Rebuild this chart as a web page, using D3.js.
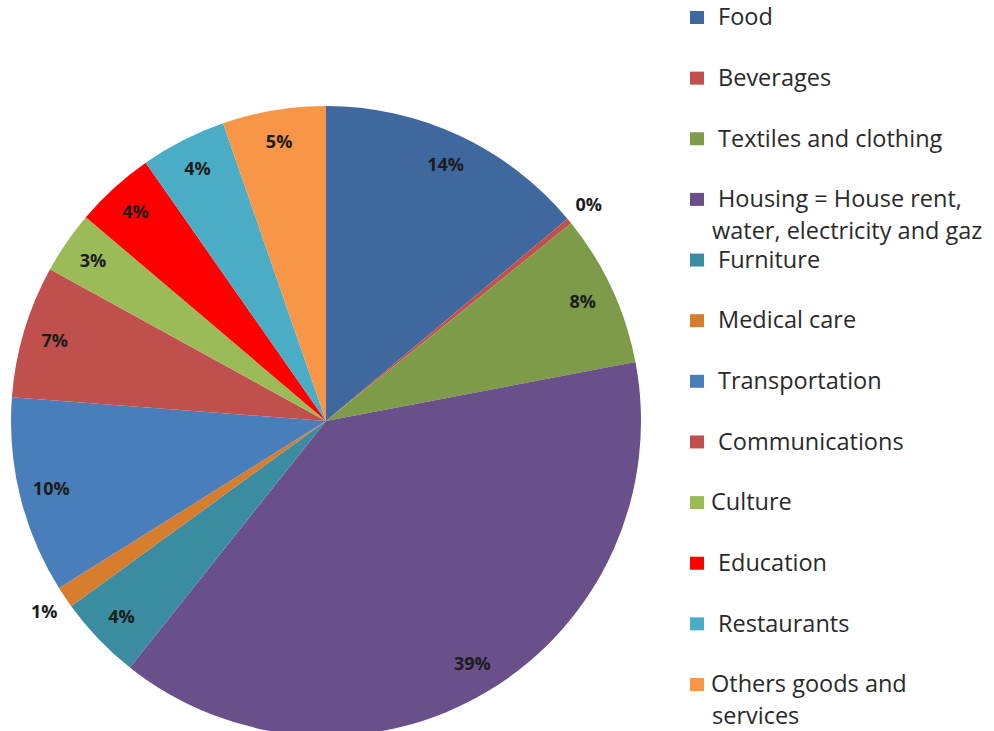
<!DOCTYPE html>
<html>
<head>
<meta charset="utf-8">
<script src="https://cdn.jsdelivr.net/npm/d3@7"></script>
<style>
  body { margin: 0; background: #fff; }
  text { font-family: "Open Sans", "Noto Sans", sans-serif; }
</style>
</head>
<body>
<div id="chart"></div>
<script>
// household spending shares (%)
const categories = ["Food", "Beverages", "Textiles and clothing",
  "Housing = House rent,|water, electricity and gaz", "Furniture", "Medical care",
  "Transportation", "Communications", "Culture", "Education", "Restaurants",
  "Others goods and|services"];
const values = [13.9, 0.3, 7.8, 38.7, 4.3, 1.1, 10.1, 6.8, 3.2, 4.1, 4.4, 5.3];
const colors = ["#3F689E", "#C0504D", "#7E9B4A", "#69508A", "#3B8CA1", "#D67D2E",
  "#4A7EBB", "#C0504D", "#9BBB59", "#FF0000", "#4BACC6", "#F79646"];

const W = 994, H = 731;
const cx = 326, cy = 421, R = 315;

const svg = d3.select("#chart").append("svg")
  .attr("width", W).attr("height", H);

const total = d3.sum(values);
const pct = d3.format(".0%");

const pie = d3.pie().sort(null).value(d => d)(values);
const arc = d3.arc().innerRadius(0).outerRadius(R);
const inLab = d3.arc().innerRadius(283).outerRadius(283);
const outLab = d3.arc().innerRadius(340).outerRadius(340);

const g = svg.append("g").attr("transform", "translate(" + cx + "," + cy + ")");

g.selectAll("path.slice").data(pie).enter().append("path")
  .attr("class", "slice")
  .attr("d", arc)
  .attr("fill", (d, i) => colors[i]);

g.selectAll("text.lab").data(pie).enter().append("text")
  .attr("class", "lab")
  .attr("transform", d => {
    let c = (d.value / total < 0.02 ? outLab : inLab).centroid(d);
    return "translate(" + c[0] + "," + c[1] + ")";
  })
  .attr("text-anchor", "middle")
  .attr("dy", "0.35em")
  .attr("font-size", 18)
  .attr("font-weight", "bold")
  .attr("fill", "#1c1c1c")
  .text(d => pct(d.value / total));

// legend
const tight = ["Culture", "Others goods and|services"];
const ly = d3.scaleLinear().domain([0, categories.length - 1]).range([17, 684]);

const leg = svg.append("g").selectAll("g").data(categories).enter().append("g")
  .attr("transform", (d, i) => "translate(690," + ly(i) + ")");

leg.append("rect")
  .attr("x", 0).attr("y", -6).attr("width", 14).attr("height", 13)
  .attr("fill", (d, i) => colors[i]);

leg.append("text")
  .attr("font-size", 23.5)
  .attr("fill", "#2a2a2a")
  .each(function(d) {
    const lines = d.split("|");
    d3.select(this).selectAll("tspan").data(lines).enter().append("tspan")
      .attr("x", (l, j) => j == 0 ? (tight.includes(d) ? 21 : 28) : 22)
      .attr("dy", (l, j) => j == 0 ? "0.35em" : "1.35em")
      .text(l => l);
  });
</script>
</body>
</html>
